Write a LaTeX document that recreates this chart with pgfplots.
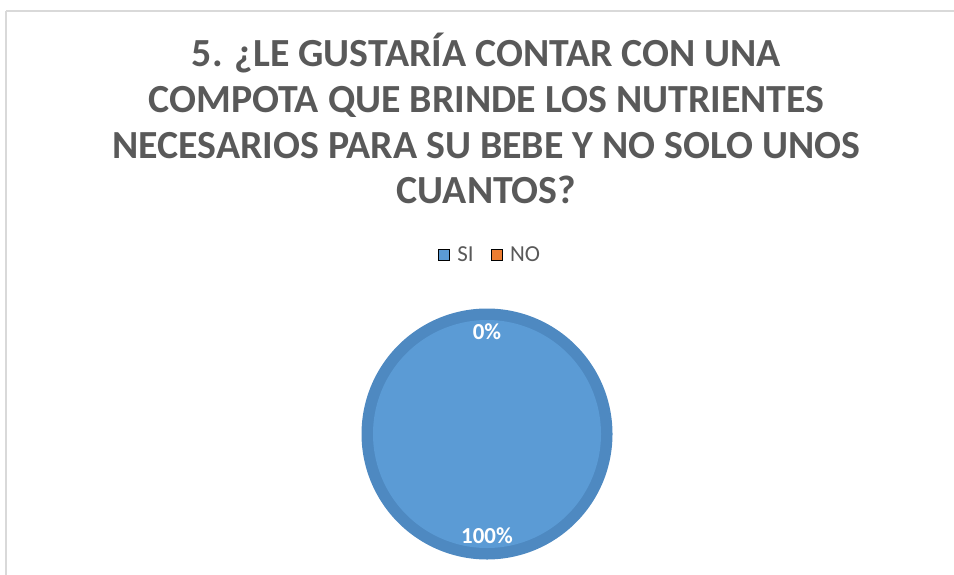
\documentclass[border=0pt]{standalone}
\usepackage{fontspec}
\setmainfont{Carlito}
\usepackage{pgfplots}
\usepackage{pgfplotstable}
\pgfplotsset{compat=1.18}
\definecolor{siblue}{RGB}{91,155,213}
\definecolor{siring}{RGB}{78,137,193}
\definecolor{noorange}{RGB}{237,125,49}
\definecolor{titlegray}{RGB}{89,89,89}
\definecolor{framegray}{RGB}{217,217,217}

\pgfplotstableread{
label value
SI 100
NO 0
}\piedata

\begin{document}
\begin{tikzpicture}
\pgfplotstablegetelem{0}{value}\of\piedata \let\vSI\pgfplotsretval
\pgfplotstablegetelem{1}{value}\of\piedata \let\vNO\pgfplotsretval
\pgfmathsetmacro\total{\vSI+\vNO}
\pgfmathsetmacro\fSI{\vSI/\total}
\pgfmathsetmacro\fNO{\vNO/\total}
\pgfmathsetmacro\aA{90}
\pgfmathsetmacro\aB{90-360*\fSI}
\pgfmathsetmacro\aC{\aB-360*\fNO}
\pgfmathsetmacro\mSI{(\aA+\aB)/2}
\pgfmathsetmacro\mNO{(\aB+\aC)/2}
\pgfmathtruncatemacro\pSI{round(100*\fSI)}
\pgfmathtruncatemacro\pNO{round(100*\fNO)}
\pgfmathsetmacro\xSI{487+102*cos(\mSI)}
\pgfmathsetmacro\ySI{434-102*sin(\mSI)}
\pgfmathsetmacro\xNO{487+102*cos(\mNO)}
\pgfmathsetmacro\yNO{434-102*sin(\mNO)}
\begin{axis}[
  name=ax,
  scale only axis,
  width=954bp, height=575bp,
  xmin=0, xmax=954, ymin=0, ymax=575,
  y dir=reverse,
  hide axis,
  clip=false,
  legend columns=2,
  legend image code/.code={\fill[#1] (0bp,-5.5bp) rectangle (11bp,5.5bp);},
  legend style={draw=none, fill=none, at={(axis cs:490.5,255)}, anchor=center,
    font=\fontsize{23}{25}\selectfont, text=titlegray,
    inner sep=0pt,
    nodes={inner sep=3bp},
    /tikz/every odd column/.append style={column sep=5bp},
    /tikz/every even column/.append style={column sep=14bp}},
]
% frame
\draw[framegray, line width=1.5bp] (axis cs:6,11) -- (axis cs:954,11);
\draw[framegray, line width=1.5bp] (axis cs:6,11) -- (axis cs:6,575);

% legend
\addlegendimage{fill=siblue}
\addlegendentry{SI}
\addlegendimage{fill=noorange}
\addlegendentry{NO}

% pie: SI slice (NO slice has zero span)
\addplot[forget plot, fill=siring, draw=none, domain=\aB:\aA, samples=361]
  ({487+125.5*cos(x)}, {434-125.5*sin(x)}) -- (axis cs:487,434) -- cycle;
\addplot[forget plot, fill=siblue, draw=none, domain=\aB:\aA, samples=361]
  ({487+114*cos(x)}, {434-114*sin(x)}) -- (axis cs:487,434) -- cycle;

% data labels
\node[anchor=base, yshift=-7.5bp, inner sep=0pt, text=white,
  font=\fontsize{23}{26}\selectfont\bfseries] at (axis cs:\xSI,\ySI) {\pSI\%};
\node[anchor=base, yshift=-7.5bp, inner sep=0pt, text=white,
  font=\fontsize{23}{26}\selectfont\bfseries] at (axis cs:\xNO,\yNO) {\pNO\%};

% title
\begin{scope}[every node/.style={anchor=base, inner sep=0pt, text=titlegray,
  font=\fontsize{40}{45}\selectfont\bfseries}]
\node at (axis cs:486.5,66.5) {5. ¿LE GUSTARÍA CONTAR CON UNA};
\node at (axis cs:486.5,112) {COMPOTA QUE BRINDE LOS NUTRIENTES};
\node at (axis cs:486.5,158) {NECESARIOS PARA SU BEBE Y NO SOLO UNOS};
\node at (axis cs:486.5,203.5) {CUANTOS?};
\end{scope}
\end{axis}
\pgfresetboundingbox
\path[use as bounding box] (ax.south west) rectangle (ax.north east);
\end{tikzpicture}
\end{document}
